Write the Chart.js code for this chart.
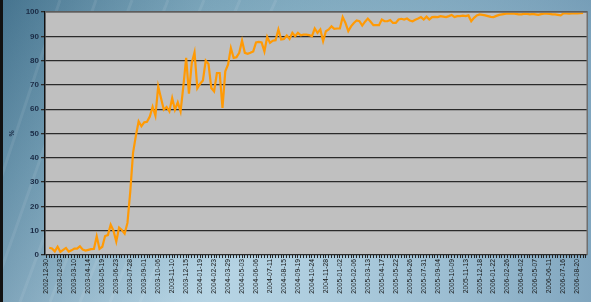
<!DOCTYPE html>
<html lang="en">
<head>
    <meta charset="UTF-8">
    <title>Weekly share</title>
    <script src="https://cdn.jsdelivr.net/npm/chart.js"></script>
    <style>
        html, body { margin: 0; padding: 0; overflow: hidden; }
        .grafico { width: 591px; height: 302px; position: relative; overflow: hidden; }
    </style>
</head>
<body>
    <div class="grafico">
        <canvas id="myChart" width="595" height="302"></canvas>
    </div>

<script>
    // tick labels shown every 5th week
    var tickLabels = [
        '2002-12-30', '2003-02-03', '2003-03-10', '2003-04-14', '2003-05-19', '2003-06-23',
        '2003-07-28', '2003-09-01', '2003-10-06', '2003-11-10', '2003-12-15', '2004-01-19',
        '2004-02-23', '2004-03-29', '2004-05-03', '2004-06-06', '2004-07-11', '2004-08-15',
        '2004-09-19', '2004-10-24', '2004-11-28', '2005-01-02', '2005-02-06', '2005-03-13',
        '2005-04-17', '2005-05-22', '2005-06-26', '2005-07-31', '2005-09-04', '2005-10-09',
        '2005-11-13', '2005-12-18', '2006-01-22', '2006-02-26', '2006-04-02', '2006-05-07',
        '2006-06-11', '2006-07-16', '2006-08-20'
    ]
    var weeksPerTick = 5
    var totalWeeks = 194

    // weekly values in %
    var share2003 = [null, 3.0, 2.7, 1.5, 3.4, 1.3, 2.1, 2.9, 1.4, 1.9, 2.6, 2.6, 3.6, 2.2, 1.8, 2.1, 2.4, 2.5,
        7.7, 2.5, 3.4, 7.8, 8.2, 12.5, 10.0, 5.5, 11.3, 10.3, 8.8, 13.2, 26, 42, 49, 55, 53, 54.6, 54.8,
        57, 61, 57.3, 69.4, 64.6, 59.8, 60.9, 59.1, 64.6, 59.8, 62.8, 59.1, 69.4, 81.1, 66.4]
    var share2004 = [79, 83.4, 68.6, 70.5, 71.8, 80.0, 78.6, 68.7, 67.3, 74.9, 74.9, 60.5, 75.6, 78.4,
        85.2, 81.1, 81.4, 83.2, 88.2, 83.2, 82.8, 83.2, 83.8, 87.5, 87.7, 87.5, 83.8, 89.8, 87.3, 88.2,
        88.4, 92.8, 88.7, 88.9, 90.3, 88.9, 91.4, 90.0, 91.4, 90.4, 90.7, 90.7, 90.5, 90.0, 93.2, 91.4,
        92.8, 88.0, 92.1, 92.8, 94.1, 93.1]
    var share2005 = [93.2, 93.2, 97.9, 95.5, 92.1, 94.1, 95.5, 96.5, 96.2, 94.4, 96.0, 97.3, 96.0, 94.6,
        94.6, 94.6, 96.9, 96.2, 96.2, 96.7, 95.5, 95.5, 96.9, 97.2, 96.9, 97.3, 96.5, 96.2, 96.8, 97.3,
        97.9, 96.9, 98.1, 96.9, 97.9, 98.0, 97.9, 98.3, 98.1, 97.9, 98.3, 98.8, 97.9, 98.3, 98.3, 98.5,
        98.3, 98.6, 96.2, 97.6, 98.6, 99.0]
    var share2006 = [98.8, 98.6, 98.3, 98.0, 97.9, 98.4, 98.8, 99.0, 99.2, 99.4, 99.3, 99.4, 99.2, 99.0,
        99.0, 99.3, 99.2, 99.0, 99.2, 99.0, 98.8, 99.1, 99.3, 99.3, 99.2, 99.0, 99.0, 98.8, 98.6, 99.4,
        99.4, 99.3, 99.4, 99.4, 99.4, 99.5, 99.6, null]

    var yMin = 0
    var yMax = 100
    var yStep = 10

    var labels = []
    for (var i = 0; i < totalWeeks; i++) {
        if (i % weeksPerTick == 0 && i / weeksPerTick < tickLabels.length) {
            labels.push(tickLabels[i / weeksPerTick])
        } else {
            labels.push('')
        }
    }
    var valores = share2003.concat(share2004, share2005, share2006)

    // backdrop: bluish picture behind the chart + gray plot area
    var fundo = {
        id: 'fundo',
        beforeDraw(chart) {
            var c = chart.ctx
            var w = chart.width, h = chart.height
            c.save()
            var g = c.createLinearGradient(0, 0, w * 0.3, h)
            g.addColorStop(0, '#4f7f99')
            g.addColorStop(0.45, '#7aa6bc')
            g.addColorStop(1, '#b3d2e3')
            c.fillStyle = g
            c.fillRect(0, 0, w, h)
            var g2 = c.createLinearGradient(0, 0, w, 0)
            g2.addColorStop(0, 'rgba(40,80,110,0.25)')
            g2.addColorStop(0.35, 'rgba(200,225,235,0.15)')
            g2.addColorStop(1, 'rgba(30,80,120,0.35)')
            c.fillStyle = g2
            c.fillRect(0, 0, w, h)
            // faint streaks
            c.strokeStyle = 'rgba(255,255,255,0.08)'
            c.lineWidth = 3
            for (var k = 0; k < 7; k++) {
                c.beginPath()
                c.moveTo(-40 + k * 30, h)
                c.lineTo(60 + k * 36, 0)
                c.stroke()
            }
            c.fillStyle = '#111'
            c.fillRect(0, 0, 3, h)
            var a = chart.chartArea
            c.fillStyle = '#c0c0c0'
            c.fillRect(a.left, a.top, a.right - a.left, a.bottom - a.top)
            c.restore()
        },
        afterDraw(chart) {
            var c = chart.ctx
            var a = chart.chartArea
            c.save()
            c.strokeStyle = '#6f6f6f'
            c.lineWidth = 1.5
            c.beginPath()
            c.moveTo(a.left, a.top)
            c.lineTo(a.right, a.top)
            c.lineTo(a.right, a.bottom)
            c.stroke()
            c.restore()
        }
    }

    var ctx = document.getElementById('myChart')
    new Chart(ctx, {
        type: 'line',
        data: {
            labels: labels,
            datasets: [{
                label: '%',
                data: valores,
                borderColor: '#ff9a05',
                borderWidth: 2.2,
                pointRadius: 0,
                tension: 0,
                fill: false
            }]
        },
        options: {
            responsive: false,
            animation: false,
            devicePixelRatio: 1,
            layout: { padding: { left: 8, top: 12, right: 0, bottom: 0 } },
            plugins: { legend: { display: false }, tooltip: { enabled: false } },
            scales: {
                x: {
                    offset: true,
                    grid: { drawOnChartArea: false, tickLength: 3, color: '#222', offset: false },
                    border: { display: false },
                    ticks: {
                        autoSkip: false,
                        minRotation: 90,
                        maxRotation: 90,
                        padding: 1,
                        color: '#151515',
                        font: { family: 'Liberation Sans', size: 6.8 }
                    },
                    afterFit(axis) { axis.height = 47 }
                },
                y: {
                    min: yMin,
                    max: yMax,
                    grid: { color: '#2a2a2a', lineWidth: 1.3, drawTicks: true, tickLength: 4 },
                    border: { display: true, color: '#111', width: 1.5 },
                    ticks: {
                        stepSize: yStep,
                        padding: 2,
                        color: '#1b2b45',
                        font: { family: 'Liberation Sans', size: 8, weight: 'bold' }
                    },
                    title: {
                        display: true,
                        text: '%',
                        color: '#1b2b45',
                        padding: 0,
                        font: { family: 'Liberation Sans', size: 7, weight: 'bold' }
                    },
                    afterFit(axis) { axis.width = 37 }
                }
            }
        },
        plugins: [fundo]
    })
</script>
</body>
</html>
